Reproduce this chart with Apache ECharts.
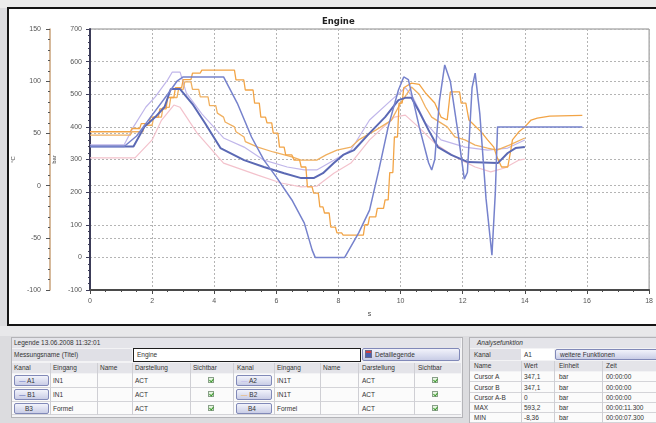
<!DOCTYPE html>
<html>
<head>
<meta charset="utf-8">
<script src="https://cdn.jsdelivr.net/npm/echarts@6/dist/echarts.min.js"></script>
<style>
  html, body { margin: 0; padding: 0; }
  body {
    width: 656px; height: 423px; overflow: hidden; position: relative;
    background: #dcdcdf;
    font-family: "Liberation Sans", "DejaVu Sans", sans-serif;
    font-size: 6.5px; color: #333;
  }
  .topband { position: absolute; left: 0; top: 0; width: 656px; height: 8px; background: #ececec; }
  .frame {
    position: absolute; left: 7px; top: 7px; width: 660px; height: 315px;
    border: 2px solid #151515; background: #fff;
  }
  #chart { position: absolute; left: 0; top: 0; width: 656px; height: 326px; }
  .band { position: absolute; left: 0; top: 326px; width: 656px; height: 10px; background: #e8e8ea; }
  .box { position: absolute; border: 1px solid #b4b4b8; background: #f3f3f5; }
  .cell { position: absolute; box-sizing: border-box; white-space: nowrap; line-height: 1; }
  .t { position: absolute; white-space: nowrap; line-height: 1; }
  .hdr { background: #e4e4e9; }
  .lbl { background: #e0e0e6; }
  .row { background: #fbfbfb; border-bottom: 1px solid #d4d4d8; }
  .vs { position: absolute; width: 1px; background: #cfcfd4; }
  .btn {
    position: absolute; box-sizing: border-box;
    background: linear-gradient(#f2f3fb, #c9cde6);
    border: 1px solid #8189b8; border-radius: 2px;
  }
  .chk {
    position: absolute; width: 6px; height: 6px; box-sizing: border-box;
    border: 1px solid #8aa08a; background: #e6f4e0;
  }
  .chk::after {
    content: ""; position: absolute; left: 1px; top: 0px; width: 2px; height: 3px;
    border: solid #3c9a2c; border-width: 0 1px 1px 0; transform: rotate(40deg);
  }
</style>
</head>
<body>
<div class="topband"></div>
<div class="frame"></div>
<div id="chart"></div>
<div class="band"></div>

<!-- Legende -->
<div class="box" style="left:11px;top:337px;width:450px;height:79px;"></div>
<div class="cell hdr" style="left:12px;top:338px;width:449px;height:10px;"></div>
<div class="t" style="left:14px;top:340px;">Legende 13.06.2008 11:32:01</div>
<div class="cell lbl" style="left:12px;top:349px;width:120px;height:12px;"></div>
<div class="t" style="left:14px;top:352px;">Messungsname (Titel)</div>
<div class="cell" style="left:133px;top:348px;width:228px;height:14px;border:1.5px solid #1e1e1e;background:#fff;"></div>
<div class="t" style="left:137px;top:352px;">Engine</div>
<div class="btn" style="left:362px;top:348px;width:98px;height:13px;"></div>
<div class="cell" style="left:365px;top:350px;width:7px;height:8px;background:linear-gradient(#d04040 0 35%, #4a60b0 35%);border:1px solid #6a6a8a;"></div>
<div class="t" style="left:375px;top:352px;">Detaillegende</div>

<div class="cell hdr" style="left:12px;top:363px;width:449px;height:10px;"></div>
<div class="t" style="left:14px;top:365px;">Kanal</div>
<div class="t" style="left:53px;top:365px;">Eingang</div>
<div class="t" style="left:100px;top:365px;">Name</div>
<div class="t" style="left:135px;top:365px;">Darstellung</div>
<div class="t" style="left:193px;top:365px;">Sichtbar</div>
<div class="t" style="left:237px;top:365px;">Kanal</div>
<div class="t" style="left:277px;top:365px;">Eingang</div>
<div class="t" style="left:323px;top:365px;">Name</div>
<div class="t" style="left:362px;top:365px;">Darstellung</div>
<div class="t" style="left:418px;top:365px;">Sichtbar</div>

<div class="cell row" style="left:12px;top:374px;width:449px;height:14px;"></div>
<div class="cell row" style="left:12px;top:388px;width:449px;height:14px;"></div>
<div class="cell row" style="left:12px;top:402px;width:449px;height:13px;"></div>
<div class="vs" style="left:50px;top:363px;height:52px;"></div>
<div class="vs" style="left:97px;top:363px;height:52px;"></div>
<div class="vs" style="left:132px;top:363px;height:52px;"></div>
<div class="vs" style="left:190px;top:363px;height:52px;"></div>
<div class="vs" style="left:233px;top:363px;height:52px;"></div>
<div class="vs" style="left:274px;top:363px;height:52px;"></div>
<div class="vs" style="left:320px;top:363px;height:52px;"></div>
<div class="vs" style="left:358px;top:363px;height:52px;"></div>
<div class="vs" style="left:414px;top:363px;height:52px;"></div>

<div class="btn" style="left:14px;top:375px;width:35px;height:11px;"></div>
<div class="t" style="left:19px;top:378px;"><span style="color:#6b79c6">—</span> A1</div>
<div class="btn" style="left:14px;top:389px;width:35px;height:11px;"></div>
<div class="t" style="left:19px;top:392px;"><span style="color:#5b69b4">—</span> B1</div>
<div class="btn" style="left:14px;top:403px;width:35px;height:11px;"></div>
<div class="t" style="left:25px;top:406px;">B3</div>
<div class="t" style="left:53px;top:378px;">IN1</div>
<div class="t" style="left:53px;top:392px;">IN1</div>
<div class="t" style="left:53px;top:406px;">Formel</div>
<div class="t" style="left:135px;top:378px;">ACT</div>
<div class="t" style="left:135px;top:392px;">ACT</div>
<div class="t" style="left:135px;top:406px;">ACT</div>
<div class="chk" style="left:208px;top:377px;"></div>
<div class="chk" style="left:208px;top:391px;"></div>
<div class="chk" style="left:208px;top:405px;"></div>

<div class="btn" style="left:236px;top:375px;width:36px;height:11px;"></div>
<div class="t" style="left:241px;top:378px;"><span style="color:#c0b6ea">—</span> A2</div>
<div class="btn" style="left:236px;top:389px;width:36px;height:11px;"></div>
<div class="t" style="left:241px;top:392px;"><span style="color:#f0b060">—</span> B2</div>
<div class="btn" style="left:236px;top:403px;width:36px;height:11px;"></div>
<div class="t" style="left:248px;top:406px;">B4</div>
<div class="t" style="left:277px;top:378px;">IN1T</div>
<div class="t" style="left:277px;top:392px;">IN1T</div>
<div class="t" style="left:277px;top:406px;">Formel</div>
<div class="t" style="left:362px;top:378px;">ACT</div>
<div class="t" style="left:362px;top:392px;">ACT</div>
<div class="t" style="left:362px;top:406px;">ACT</div>
<div class="chk" style="left:432px;top:377px;"></div>
<div class="chk" style="left:432px;top:391px;"></div>
<div class="chk" style="left:432px;top:405px;"></div>

<!-- Analysefunktion -->
<div class="box" style="left:469px;top:337px;width:195px;height:90px;"></div>
<div class="cell hdr" style="left:470px;top:338px;width:190px;height:10px;"></div>
<div class="t" style="left:477px;top:340px;font-style:italic;">Analysefunktion</div>
<div class="cell lbl" style="left:470px;top:349px;width:51px;height:11px;"></div>
<div class="t" style="left:474px;top:352px;">Kanal</div>
<div class="cell" style="left:521px;top:349px;width:33px;height:11px;background:#fff;"></div>
<div class="t" style="left:524px;top:352px;">A1</div>
<div class="btn" style="left:555px;top:349px;width:105px;height:11px;"></div>
<div class="t" style="left:560px;top:352px;">weitere Funktionen</div>
<div class="cell hdr" style="left:470px;top:361px;width:190px;height:10px;"></div>
<div class="t" style="left:474px;top:363px;">Name</div>
<div class="t" style="left:524px;top:363px;">Wert</div>
<div class="t" style="left:559px;top:363px;">Einheit</div>
<div class="t" style="left:606px;top:363px;">Zeit</div>
<div class="cell row" style="left:470px;top:372px;width:190px;height:10px;"></div>
<div class="cell row" style="left:470px;top:382px;width:190px;height:11px;"></div>
<div class="cell row" style="left:470px;top:393px;width:190px;height:10px;"></div>
<div class="cell row" style="left:470px;top:403px;width:190px;height:10px;"></div>
<div class="cell row" style="left:470px;top:413px;width:190px;height:10px;"></div>
<div class="vs" style="left:521px;top:361px;height:62px;"></div>
<div class="vs" style="left:554px;top:361px;height:62px;"></div>
<div class="vs" style="left:602px;top:361px;height:62px;"></div>
<div class="t" style="left:474px;top:374px;">Cursor A</div>
<div class="t" style="left:524px;top:374px;">347,1</div>
<div class="t" style="left:559px;top:374px;">bar</div>
<div class="t" style="left:606px;top:374px;">00:00:00</div>
<div class="t" style="left:474px;top:385px;">Cursor B</div>
<div class="t" style="left:524px;top:385px;">347,1</div>
<div class="t" style="left:559px;top:385px;">bar</div>
<div class="t" style="left:606px;top:385px;">00:00:00</div>
<div class="t" style="left:474px;top:395px;">Cursor A-B</div>
<div class="t" style="left:524px;top:395px;">0</div>
<div class="t" style="left:559px;top:395px;">bar</div>
<div class="t" style="left:606px;top:395px;">00:00:00</div>
<div class="t" style="left:474px;top:405px;">MAX</div>
<div class="t" style="left:524px;top:405px;">593,2</div>
<div class="t" style="left:559px;top:405px;">bar</div>
<div class="t" style="left:606px;top:405px;">00:00:11.300</div>
<div class="t" style="left:474px;top:415px;">MIN</div>
<div class="t" style="left:524px;top:415px;">-8,36</div>
<div class="t" style="left:559px;top:415px;">bar</div>
<div class="t" style="left:606px;top:415px;">00:00:07.300</div>

<script>
// channel data, [time s, pressure bar]
const A1 = [[0,340],[1.1,340],[1.5,372],[2.0,436],[2.5,500],[2.8,540],[3.0,553],[4.3,553],[4.74,473],[5.2,369],[5.6,298],[6.0,246],[6.5,176],[6.9,105],[7.15,23],[7.25,0],[8.2,0],[8.65,75],[9.0,145],[9.3,268],[9.6,400],[9.93,513],[10.1,553],[10.25,545],[10.6,400],[10.9,290],[11.0,268],[11.1,300],[11.25,480],[11.42,590],[11.6,540],[11.85,380],[12.05,240],[12.15,260],[12.3,520],[12.4,565],[12.55,440],[12.75,180],[12.94,7],[13.05,200],[13.12,400],[15.85,400]];
const B1 = [[0,340],[1.4,340],[1.75,400],[2.1,430],[2.4,461],[2.6,516],[2.9,516],[3.3,470],[3.7,412],[4.2,335],[4.96,298],[5.6,277],[6.25,258],[6.8,243],[7.2,243],[7.5,258],[7.85,289],[8.15,314],[8.5,329],[9.0,381],[9.5,430],[9.93,482],[10.15,489],[10.35,489],[10.57,452],[10.9,390],[11.2,338],[11.63,314],[12.17,292],[13.13,289],[13.45,320],[13.7,335],[14.0,338]];
const A2 = [[0,345],[1.1,345],[1.4,400],[1.8,461],[2.1,492],[2.5,544],[2.65,568],[2.9,568],[3.1,504],[3.6,440],[4.3,366],[4.96,338],[5.6,298],[6.35,277],[6.9,268],[7.3,268],[7.85,298],[8.4,329],[9.0,421],[9.7,482],[10.15,520],[10.4,490],[10.8,412],[11.3,360],[12.07,338],[12.8,329],[13.45,335],[14.0,360]];
const B2 = [[0,375],[1.3,375],[1.35,385],[1.7,385],[1.75,405],[2.0,405],[2.05,430],[2.3,430],[2.35,460],[2.55,460],[2.6,490],[2.8,490],[2.85,515],[3.0,515],[3.05,538],[3.25,538],[3.3,515],[3.5,515],[3.55,492],[3.8,492],[3.85,465],[4.05,465],[4.1,442],[4.3,430],[4.35,415],[4.65,400],[4.7,385],[4.96,369],[5.0,355],[5.4,338],[5.9,323],[6.5,308],[6.8,298],[7.3,298],[7.6,314],[7.95,329],[8.4,338],[8.65,360],[9.2,390],[9.7,420],[10.0,473],[10.35,522],[10.6,500],[10.8,461],[11.0,430],[11.5,400],[11.75,369],[12.07,360],[12.4,344],[12.8,335],[13.1,329],[13.5,344],[14.0,366]];
const B3 = [[0,385],[1.3,385],[1.35,395],[1.6,395],[1.65,410],[1.9,410],[1.95,430],[2.2,430],[2.25,455],[2.45,455],[2.5,490],[2.7,490],[2.75,520],[2.95,520],[3.0,545],[3.25,545],[3.3,565],[3.55,565],[3.6,574],[4.65,574],[4.7,544],[4.95,544],[5.0,513],[5.25,513],[5.3,473],[5.45,473],[5.5,430],[5.65,430],[5.7,412],[5.85,412],[5.9,381],[6.05,381],[6.1,338],[6.25,338],[6.3,314],[6.5,314],[6.57,298],[6.75,298],[6.8,277],[6.95,277],[7.0,216],[7.15,216],[7.2,197],[7.35,197],[7.4,155],[7.5,155],[7.55,136],[7.7,136],[7.75,93],[7.9,93],[7.95,75],[8.1,75],[8.15,68],[8.8,68],[8.85,100],[8.95,100],[9.0,124],[9.2,124],[9.25,150],[9.45,150],[9.5,176],[9.6,176],[9.65,260],[9.75,260],[9.8,369],[9.9,369],[9.95,473],[10.05,473],[10.1,520],[10.35,534],[10.6,530],[10.8,504],[11.1,473],[11.3,430],[11.5,421],[11.6,507],[11.9,507],[11.95,473],[12.1,473],[12.2,421],[12.6,384],[12.8,360],[13.0,338],[13.1,308],[13.25,277],[13.45,277],[13.55,330],[13.6,360],[13.8,384],[14.0,400],[14.2,421],[14.4,427],[14.8,433],[15.85,435]];
const B4 = [[0,305],[1.45,305],[2.0,360],[2.3,420],[2.7,467],[2.9,460],[3.45,381],[4.3,289],[5.4,252],[6.15,228],[6.8,216],[7.3,218],[7.85,258],[8.4,289],[9.0,360],[9.8,430],[10.15,436],[10.57,400],[11.1,350],[11.75,308],[12.4,277],[12.9,262],[13.35,274],[13.8,298],[14.0,301]];

const gridDash = { color: "#b4b4b4", width: 1, type: [2, 2] };

function line(name, data, color, width) {
  return {
    name: name,
    type: "line",
    yAxisIndex: 0,
    data: data,
    symbol: "none",
    lineStyle: { color: color, width: width },
    itemStyle: { color: color },
  };
}

const chart = echarts.init(document.getElementById("chart"));
const option = {
  animation: false,
  title: {
    text: "Engine",
    left: 317,
    top: 12,
    textStyle: { fontSize: 8.5, fontWeight: "bold", color: "#222", fontFamily: "DejaVu Sans" },
  },
  grid: {
    left: 90, right: 4, top: 29, bottom: 36,
    show: true, borderColor: "#8a8a8a", borderWidth: 1,
  },
  xAxis: {
    type: "value",
    min: 0, max: 18, interval: 2,
    name: "s", nameLocation: "middle", nameGap: 21,
    nameTextStyle: { fontSize: 7, color: "#444" },
    axisLine: { onZero: false, lineStyle: { color: "#4a4a4a", width: 2 } },
    axisTick: { length: 4, lineStyle: { color: "#4a4a4a" } },
    minorTick: { show: true, splitNumber: 4, length: 2, lineStyle: { color: "#4a4a4a" } },
    axisLabel: { fontSize: 7, color: "#555", margin: 8 },
    splitLine: { show: true, lineStyle: gridDash },
  },
  yAxis: [
    {
      type: "value",
      position: "left",
      min: -100, max: 700, interval: 100,
      name: "bar", nameLocation: "middle", nameGap: 25, nameRotate: 90,
      nameTextStyle: { fontSize: 6, color: "#444" },
      axisLine: { show: true, onZero: false, lineStyle: { color: "#3c3c58", width: 2 } },
      axisTick: { show: true, length: 4, lineStyle: { color: "#3c3c58" } },
      minorTick: { show: true, splitNumber: 5, length: 2, lineStyle: { color: "#3c3c58" } },
      axisLabel: { fontSize: 7, color: "#555", margin: 8 },
      splitLine: { show: true, lineStyle: gridDash },
    },
    {
      type: "value",
      position: "left",
      offset: 40,
      min: -100, max: 150, interval: 50,
      name: "°C", nameLocation: "middle", nameGap: 34, nameRotate: 90,
      nameTextStyle: { fontSize: 6, color: "#444" },
      axisLine: { show: true, onZero: false, lineStyle: { color: "#c9a27a", width: 1.5 } },
      axisTick: { show: true, length: 4, lineStyle: { color: "#555" } },
      minorTick: { show: true, splitNumber: 5, length: 2, lineStyle: { color: "#555" } },
      axisLabel: { fontSize: 7, color: "#555", margin: 9 },
      splitLine: { show: true, lineStyle: gridDash },
    },
  ],
  series: [
    line("B4", B4, "#f3c2cc", 1.2),
    line("A2", A2, "#c0b6ea", 1.2),
    line("B2", B2, "#f0b060", 1.3),
    line("B3", B3, "#f2a446", 1.3),
    line("B1", B1, "#5b69b4", 2),
    line("A1", A1, "#7682cc", 1.5),
  ],
};
chart.setOption(option);
</script>
</body>
</html>
